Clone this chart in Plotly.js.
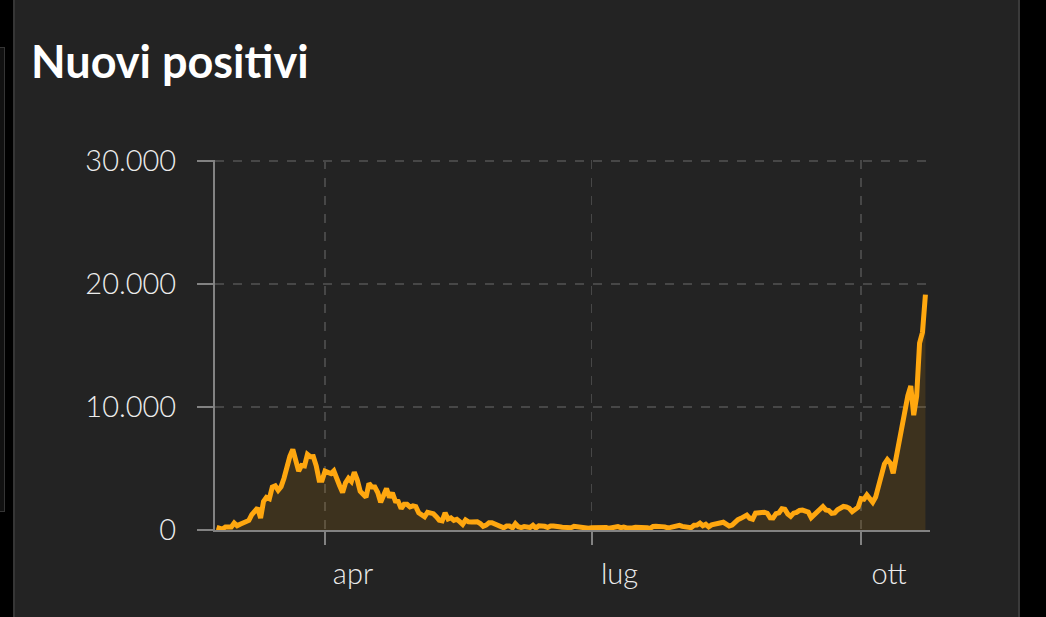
<!DOCTYPE html>
<html>
<head>
<meta charset="utf-8">
<script src="https://cdn.plot.ly/plotly-3.0.1.min.js"></script>
<style>
  html, body { margin:0; padding:0; width:1046px; height:617px; background:#000; overflow:hidden; }
  #sidecard { position:absolute; left:-2px; top:47px; width:5px; height:463px; border:1px solid #353535; background:#111; }
  #card { position:absolute; left:13px; top:0; width:1003px; height:617px; background:#232323;
          border-left:2px solid #363636; border-right:2px solid #3a3a3a; }
  #chart { position:absolute; left:0; top:0; width:1046px; height:617px; }
</style>
</head>
<body>
<div id="sidecard"></div>
<div id="card"></div>
<div id="chart"></div>
<script>
// Daily new positives, Italy, from 2020-02-24
const startDate = '2020-02-24';
const febValues = [221, 93, 78, 250, 238, 240];
const marValues = [566, 342, 466, 587, 769, 778, 1247, 1492, 1797, 977, 2313, 2651, 2547, 3497, 3590, 3233, 3526, 4207, 5322, 5986, 6557, 5560, 4789, 5249, 5210, 6153, 5959, 5974, 5217, 4050, 4053];
const aprValues = [4782, 4668, 4585, 4805, 4316, 3599, 3039, 3836, 4204, 3951, 4694, 4092, 3153, 2972, 2667, 3786, 3493, 3491, 3047, 2256, 2729, 3370, 2646, 3021, 2357, 2324, 1739, 2091, 2086, 1872];
const mayValues = [1965, 1900, 1389, 1221, 1075, 1444, 1401, 1327, 1083, 802, 744, 1402, 888, 992, 789, 875, 675, 451, 813, 665, 642, 652, 669, 531, 300, 397, 584, 593, 516, 416, 355];
const junValues = [178, 318, 321, 177, 518, 270, 197, 280, 283, 202, 379, 163, 346, 338, 301, 210, 329, 333, 251, 262, 224, 218, 122, 190, 296, 259, 175, 174, 126, 142];
const julValues = [187, 201, 223, 235, 192, 208, 138, 193, 229, 276, 188, 234, 169, 114, 162, 230, 233, 249, 219, 190, 129, 282, 306, 252, 275, 255, 170, 212, 289, 386, 379];
const augValues = [295, 239, 159, 190, 384, 402, 552, 347, 463, 259, 412, 481, 523, 574, 629, 479, 320, 403, 642, 845, 947, 1071, 1210, 953, 878, 1367, 1411, 1462, 1444, 1365, 996];
const sepValues = [978, 1326, 1397, 1733, 1695, 1297, 1108, 1370, 1434, 1597, 1616, 1501, 1458, 1008, 1229, 1452, 1585, 1907, 1638, 1587, 1350, 1392, 1640, 1786, 1912, 1869, 1766, 1494, 1648, 1851];
const octValues = [2548, 2499, 2844, 2578, 2257, 2677, 3678, 4458, 5372, 5724, 5456, 4619, 5901, 7332, 8804, 10010, 10925, 11705, 9338, 10874, 15199, 16079, 19143];

const tickVals = ['2020-04-01', '2020-07-01', '2020-10-01'];
const tickText = ['apr', 'lug', 'ott'];
const yTickVals = [0, 10000, 20000, 30000];

const values = [].concat(febValues, marValues, aprValues, mayValues, junValues, julValues, augValues, sepValues, octValues);
const dates = values.map((_, i) => {
  const d = new Date(startDate + 'T00:00:00Z');
  d.setUTCDate(d.getUTCDate() + i);
  return d.toISOString().slice(0, 10);
});

const tickFont = { family: 'Lato, "Open Sans", sans-serif', size: 29, color: '#ececec', weight: 300 };

Plotly.newPlot('chart', [{
  x: dates,
  y: values,
  type: 'scatter',
  mode: 'lines',
  fill: 'tozeroy',
  fillcolor: 'rgba(255,166,0,0.12)',
  line: { color: '#ffa70f', width: 5 },
  hoverinfo: 'skip'
}], {
  width: 1046,
  height: 617,
  paper_bgcolor: 'rgba(0,0,0,0)',
  plot_bgcolor: 'rgba(0,0,0,0)',
  separators: ',.',
  showlegend: false,
  margin: { l: 215, r: 116, t: 160, b: 87 },
  title: {
    text: 'Nuovi positivi',
    xref: 'container', yref: 'container',
    x: 31 / 1046, xanchor: 'left',
    y: 1 - 62 / 617, yanchor: 'middle',
    font: { family: 'Lato, "Open Sans", sans-serif', size: 45, color: '#ffffff', weight: 'bold' }
  },
  xaxis: {
    type: 'date',
    range: ['2020-02-23 10:30', '2020-10-24 13:30'],
    tickmode: 'array',
    tickvals: tickVals,
    ticktext: tickText,
    ticks: 'outside',
    ticklen: 13,
    tickwidth: 2,
    tickcolor: '#828282',
    ticklabelshift: 28,
    ticklabelstandoff: 4,
    tickfont: tickFont,
    showline: true,
    linecolor: '#828282',
    linewidth: 2,
    showgrid: true,
    gridcolor: '#474747',
    griddash: 'dash',
    gridwidth: 1.5,
    zeroline: false,
    fixedrange: true
  },
  yaxis: {
    range: [0, 30090],
    tickmode: 'array',
    tickvals: yTickVals,
    tickformat: ',d',
    ticks: 'outside',
    ticklen: 16,
    tickwidth: 2,
    tickcolor: '#828282',
    ticklabelstandoff: 15,
    tickfont: tickFont,
    showline: true,
    linecolor: '#828282',
    linewidth: 2,
    showgrid: true,
    gridcolor: '#474747',
    griddash: 'dash',
    gridwidth: 1.5,
    zeroline: false,
    fixedrange: true
  }
}, { staticPlot: true, displayModeBar: false });
</script>
</body>
</html>
